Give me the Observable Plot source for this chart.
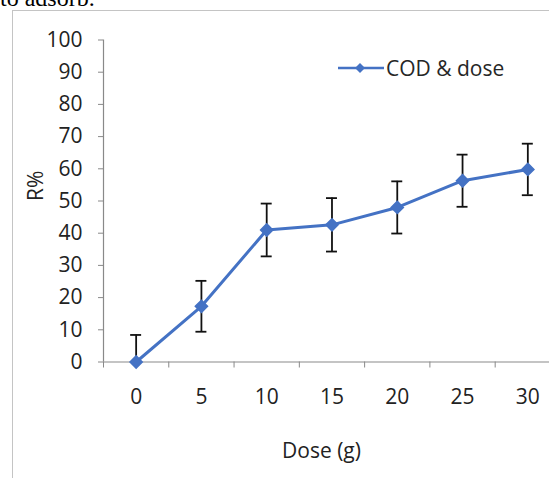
<!DOCTYPE html>
<html>
<head>
<meta charset="utf-8">
<script src="https://cdn.jsdelivr.net/npm/d3@7"></script>
<script src="https://cdn.jsdelivr.net/npm/@observablehq/plot@0.6"></script>
<style>
  html, body { margin: 0; padding: 0; background: #fff; }
  #wrap { position: relative; width: 549px; height: 478px; overflow: hidden; background: #fff; }
  #frame { position: absolute; left: 12px; top: 10px; width: 600px; height: 520px; border: 1.5px solid #c4c4c4; box-sizing: border-box; }
  #cut { position: absolute; left: 0px; top: -15px; font-family: "Liberation Serif", serif; font-size: 24px; color: #000; white-space: nowrap; }
  #chart { position: absolute; left: 0; top: 0; }
  #legend { position: absolute; left: 337px; top: 54px; display: flex; align-items: center; font-family: "Open Sans", sans-serif; font-size: 21px; color: #262626; white-space: nowrap; }
  #legend svg { margin-right: 1px; }
</style>
</head>
<body>
<div id="wrap">
  <div id="cut">to adsorb.</div>
  <div id="frame"></div>
  <div id="chart"></div>
  <div id="legend"><svg width="48" height="14"><line x1="1" y1="7" x2="47" y2="7" stroke="#4472C4" stroke-width="2.5"/><path d="M23,2 L28,7 L23,12 L18,7 Z" fill="#4472C4"/></svg><span>COD &amp; dose</span></div>
</div>
<script>
const doses = [0, 5, 10, 15, 20, 25, 30];
const removal = [0, 17.3, 41.0, 42.6, 48.0, 56.3, 59.8];
const errors = [8.4, 7.9, 8.2, 8.3, 8.1, 8.1, 8.0];
const yTicks = [0, 10, 20, 30, 40, 50, 60, 70, 80, 90, 100];
const xBounds = [-2.5, 2.5, 7.5, 12.5, 17.5, 22.5, 27.5];
const seriesName = "COD & dose";
const xTitle = "Dose (g)";
const yTitle = "R%";

const data = doses.map((d, i) => ({dose: d, r: removal[i], e: errors[i]}));
const blue = "#4472C4";
const axisGray = "#898989";
const textColor = "#222222";
const font = "Open Sans";

const chart = Plot.plot({
  width: 549,
  height: 478,
  marginLeft: 103,
  marginRight: 0,
  marginTop: 39.5,
  marginBottom: 116.5,
  style: {background: "transparent", color: textColor, fontFamily: font},
  x: {domain: [-2.5, 31.66], axis: null},
  y: {domain: [0, 100], axis: null},
  marks: [
    Plot.axisY({ticks: yTicks, tickSize: 5, tickPadding: 16, stroke: axisGray, fontSize: 21, fill: textColor, label: null}),
    Plot.axisX({ticks: xBounds, tickSize: 6, tickFormat: () => "", stroke: axisGray, label: null}),
    Plot.axisX({ticks: doses, tickSize: 0, tickPadding: 27, fontSize: 21, fill: textColor, label: null}),
    Plot.ruleX([-2.5], {y1: 0, y2: 100, stroke: axisGray, strokeWidth: 1.2}),
    Plot.ruleY([0], {x1: -2.5, x2: 31.66, stroke: axisGray, strokeWidth: 1.2}),
    Plot.ruleX(data, {x: "dose", y1: d => Math.max(0, d.r - d.e), y2: d => d.r + d.e, stroke: "#111", strokeWidth: 1.8}),
    Plot.ruleY(data, {y: d => d.r + d.e, x1: d => d.dose - 0.42, x2: d => d.dose + 0.42, stroke: "#111", strokeWidth: 1.8}),
    Plot.ruleY(data.filter(d => d.r - d.e > 0), {y: d => d.r - d.e, x1: d => d.dose - 0.42, x2: d => d.dose + 0.42, stroke: "#111", strokeWidth: 1.8}),
    Plot.line(data, {x: "dose", y: "r", stroke: blue, strokeWidth: 3}),
    Plot.dot(data, {x: "dose", y: "r", symbol: "diamond2", r: 5.5, fill: blue, stroke: blue}),
    Plot.text([yTitle], {frameAnchor: "left", dx: -67, rotate: -90, fontSize: 21, fill: textColor}),
    Plot.text([xTitle], {frameAnchor: "bottom", dy: 96, dx: -5, fontSize: 21, fill: textColor})
  ]
});
document.getElementById("chart").appendChild(chart);
</script>
</body>
</html>
